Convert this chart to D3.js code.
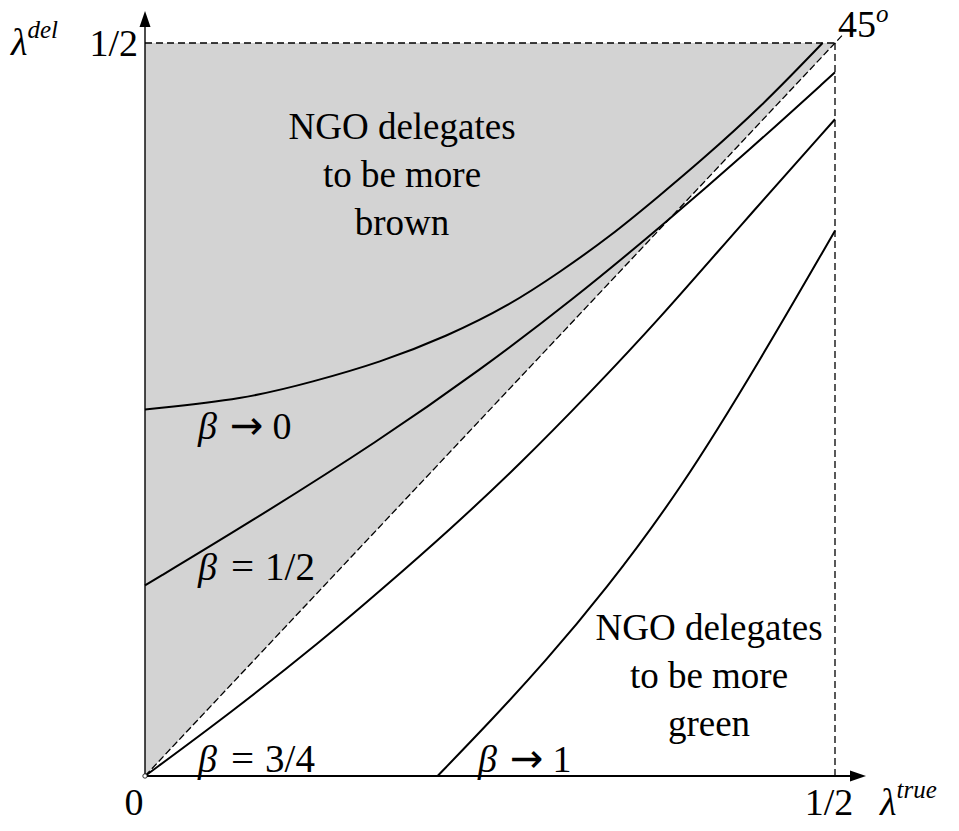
<!DOCTYPE html>
<html>
<head>
<meta charset="utf-8">
<script src="https://cdn.jsdelivr.net/npm/d3@7"></script>
<style>
  body { margin: 0; background: #fff; }
  svg text { font-family: "Liberation Serif", "Times New Roman", serif; fill: #000; }
</style>
</head>
<body>
<div id="chart"></div>
<script>
// Curve values (lambda_true, lambda_del)
const beta0X  = [0, 0.072, 0.122, 0.170, 0.219, 0.264, 0.301, 0.337, 0.373, 0.402, 0.446, 0.491];
const beta0Y  = [0.250, 0.257, 0.269, 0.282, 0.300, 0.321, 0.344, 0.368, 0.396, 0.419, 0.456, 0.500];
const beta5X  = [0, 0.076, 0.170, 0.243, 0.310, 0.373, 0.438, 0.500];
const beta5Y  = [0.130, 0.173, 0.229, 0.277, 0.325, 0.374, 0.427, 0.480];
const beta75X = [0, 0.062, 0.129, 0.170, 0.221, 0.272, 0.322, 0.372, 0.431, 0.500];
const beta75Y = [0, 0.043, 0.093, 0.126, 0.168, 0.213, 0.261, 0.311, 0.375, 0.448];
const beta1X  = [0.212, 0.250, 0.290, 0.333, 0.388, 0.446, 0.500];
const beta1Y  = [0, 0.037, 0.078, 0.126, 0.195, 0.284, 0.372];

const tickValues = [0, 0.5];
const tickLabels = ["0", "1/2"];
const betaLabels = [["→", "0"], ["=", "1/2"], ["=", "3/4"], ["→", "1"]];
const brownText = ["NGO delegates", "to be more", "brown"];
const greenText = ["NGO delegates", "to be more", "green"];

const width = 959, height = 831;

const svg = d3.select("#chart")
    .append("svg")
    .attr("width", width)
    .attr("height", height);

const x = d3.scaleLinear().domain([0, 0.5]).range([145, 835]);
const y = d3.scaleLinear().domain([0, 0.5]).range([776, 43]);

// Shaded triangle above the 45 degree line
svg.append("path")
    .attr("d", d3.line()([[x(0), y(0)], [x(0), y(0.5)], [x(0.5), y(0.5)]]) + "Z")
    .attr("fill", "#d3d3d3");

// Dashed guides
svg.append("line")
    .attr("x1", x(0)).attr("y1", y(0.5))
    .attr("x2", x(0.5)).attr("y2", y(0.5))
    .attr("stroke", "#000").attr("stroke-width", 1.3)
    .attr("stroke-dasharray", "7,4");

svg.append("line")
    .attr("x1", x(0.5)).attr("y1", y(0.5))
    .attr("x2", x(0.5)).attr("y2", y(0))
    .attr("stroke", "#000").attr("stroke-width", 1.3)
    .attr("stroke-dasharray", "7,4");

svg.append("line")
    .attr("x1", x(0)).attr("y1", y(0))
    .attr("x2", x(0.505)).attr("y2", y(0.505))
    .attr("stroke", "#000").attr("stroke-width", 1.3)
    .attr("stroke-dasharray", "7,3");

// Curves
const line = d3.line()
    .x(d => x(d[0]))
    .y(d => y(d[1]))
    .curve(d3.curveBasis);

const series = [
    [beta0X, beta0Y],
    [beta5X, beta5Y],
    [beta75X, beta75Y],
    [beta1X, beta1Y]
];

svg.selectAll(".curve")
    .data(series)
    .enter()
    .append("path")
    .attr("class", "curve")
    .attr("d", s => line(s[0].map((v, i) => [v, s[1][i]])))
    .attr("fill", "none")
    .attr("stroke", "#000")
    .attr("stroke-width", 2);

// Axes with arrows
svg.append("line")
    .attr("x1", x(0)).attr("y1", y(0))
    .attr("x2", 853).attr("y2", y(0))
    .attr("stroke", "#000").attr("stroke-width", 2.2);
svg.append("path")
    .attr("d", `M866,${y(0)} L850,${y(0) - 5.5} L850,${y(0) + 5.5} Z`)
    .attr("fill", "#000");

svg.append("line")
    .attr("x1", x(0)).attr("y1", y(0))
    .attr("x2", x(0)).attr("y2", 24)
    .attr("stroke", "#000").attr("stroke-width", 1.4);
svg.append("path")
    .attr("d", `M${x(0)},11 L${x(0) - 5.5},27 L${x(0) + 5.5},27 Z`)
    .attr("fill", "#000");

svg.append("circle")
    .attr("cx", x(0)).attr("cy", y(0)).attr("r", 2.2)
    .attr("fill", "#fff").attr("stroke", "#000").attr("stroke-width", 0.8);

// Tick labels
svg.append("text")
    .attr("x", x(tickValues[0]) - 11).attr("y", 815)
    .attr("text-anchor", "middle").attr("font-size", 38)
    .text(tickLabels[0]);
svg.append("text")
    .attr("x", x(tickValues[1]) - 6).attr("y", 815)
    .attr("text-anchor", "middle").attr("font-size", 38)
    .text(tickLabels[1]);
svg.append("text")
    .attr("x", x(0) - 7).attr("y", y(tickValues[1]) + 13)
    .attr("text-anchor", "end").attr("font-size", 38)
    .text(tickLabels[1]);

// Axis titles
const yTitle = svg.append("text").attr("x", 11).attr("y", 55).attr("font-size", 38);
yTitle.append("tspan").attr("font-style", "italic").text("λ");
yTitle.append("tspan").attr("font-style", "italic").attr("font-size", 25).attr("dy", -17).text("del");

const xTitle = svg.append("text").attr("x", 880).attr("y", 815).attr("font-size", 38);
xTitle.append("tspan").attr("font-style", "italic").text("λ");
xTitle.append("tspan").attr("font-style", "italic").attr("font-size", 25).attr("dy", -17).text("true");

const angle = svg.append("text").attr("x", 838).attr("y", 37).attr("font-size", 38);
angle.append("tspan").text("45");
angle.append("tspan").attr("font-style", "italic").attr("font-size", 25).attr("dy", -15).text("o");

// Beta labels
const betaPos = [[198, 439], [198, 580], [198, 772], [478, 772]];
betaLabels.forEach((lab, i) => {
    const t = svg.append("text")
        .attr("x", betaPos[i][0]).attr("y", betaPos[i][1])
        .attr("font-size", 38);
    t.append("tspan").attr("font-style", "italic").text("β");
    if (lab[0] === "→") {
        t.append("tspan").attr("dx", 13)
            .style("font-family", "'DejaVu Sans'").attr("font-size", 40).text(lab[0]);
        t.append("tspan").attr("dx", 9).text(lab[1]);
    } else {
        t.append("tspan").attr("dx", 14).attr("font-size", 41).text(lab[0]);
        t.append("tspan").attr("dx", 11).attr("font-size", 39).text(lab[1]);
    }
});

// Region annotations
svg.selectAll(".brown")
    .data(brownText)
    .enter()
    .append("text")
    .attr("class", "brown")
    .attr("x", 402)
    .attr("y", (d, i) => 139 + i * 48)
    .attr("text-anchor", "middle")
    .attr("font-size", 37)
    .text(d => d);

svg.selectAll(".green")
    .data(greenText)
    .enter()
    .append("text")
    .attr("class", "green")
    .attr("x", 709)
    .attr("y", (d, i) => 640 + i * 48)
    .attr("text-anchor", "middle")
    .attr("font-size", 37)
    .text(d => d);
</script>
</body>
</html>
